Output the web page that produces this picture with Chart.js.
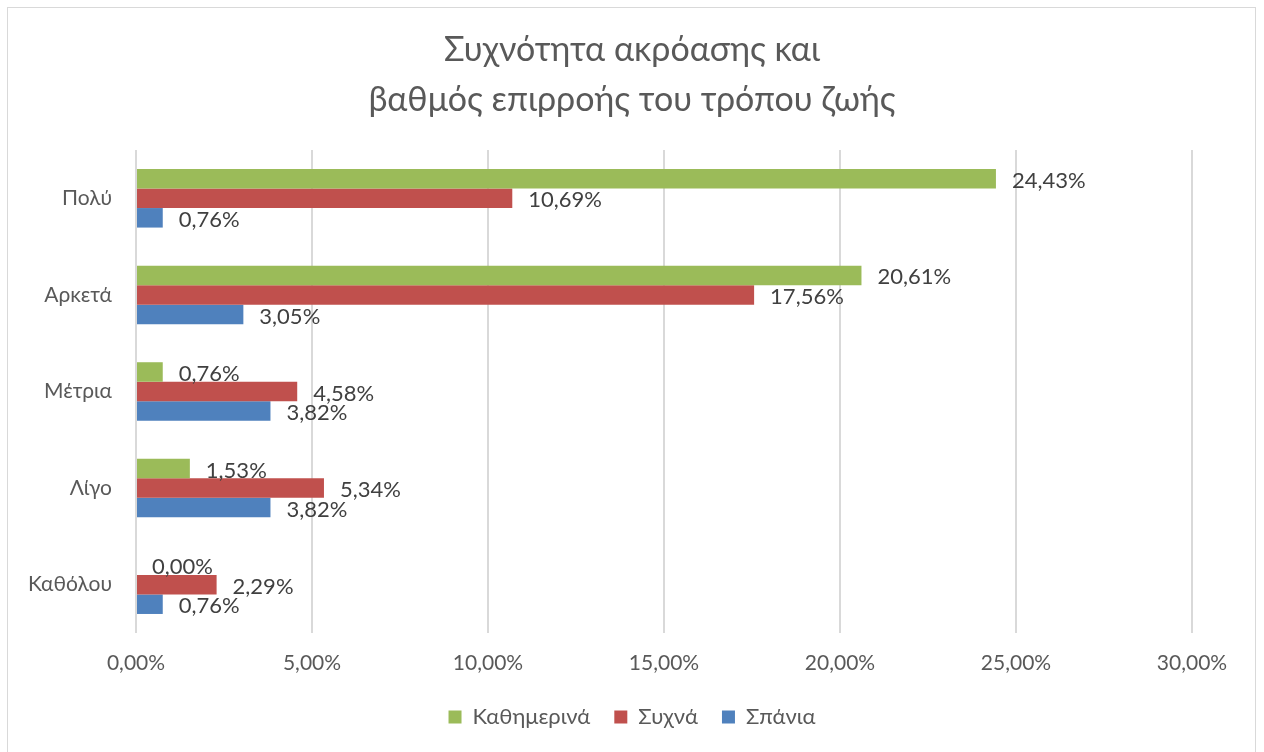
<!DOCTYPE html>
<html>
<head>
<meta charset="utf-8">
<script src="https://cdn.jsdelivr.net/npm/chart.js@4"></script>
<style>
  html, body { margin: 0; padding: 0; background: #ffffff; }
  #frame { position: absolute; left: 7px; top: 7px; width: 1249px; height: 800px; border: 1px solid #d9d9d9; box-sizing: border-box; }
  #wrap { position: absolute; left: 0; top: 0; width: 1264px; height: 752px; }
</style>
</head>
<body>
<div id="frame"></div>
<div id="wrap"><canvas id="c" width="1264" height="752"></canvas></div>
<script>
const titleLines = ['Συχνότητα ακρόασης και', 'βαθμός επιρροής του τρόπου ζωής'];
const categories = ['Πολύ', 'Αρκετά', 'Μέτρια', 'Λίγο', 'Καθόλου'];
const seriesNames = ['Καθημερινά', 'Συχνά', 'Σπάνια'];
const daily = [24.43, 20.61, 0.76, 1.53, 0.00];
const often = [10.69, 17.56, 4.58, 5.34, 2.29];
const rarely = [0.76, 3.05, 3.82, 3.82, 0.76];
const xTicks = [0, 5, 10, 15, 20, 25, 30];
const colors = ['#9BBB59', '#C0504D', '#4F81BD'];

const FONT = 'Lato, Carlito, Calibri, sans-serif';
const fmt = v => v.toFixed(2).replace('.', ',') + '%';

const labelPlugin = {
  id: 'barLabels',
  afterDatasetsDraw(chart) {
    const ctx = chart.ctx;
    ctx.save();
    ctx.font = '22px ' + FONT;
    ctx.fillStyle = '#404040';
    ctx.textAlign = 'left';
    ctx.textBaseline = 'middle';
    chart.data.datasets.forEach((ds, di) => {
      const meta = chart.getDatasetMeta(di);
      meta.data.forEach((bar, i) => {
        ctx.fillText(fmt(ds.data[i]), bar.x + 16, bar.y + 2);
      });
    });
    ctx.restore();
  }
};

new Chart(document.getElementById('c'), {
  type: 'bar',
  data: {
    labels: categories,
    datasets: [
      { label: seriesNames[0], data: daily, backgroundColor: colors[0] },
      { label: seriesNames[1], data: often, backgroundColor: colors[1] },
      { label: seriesNames[2], data: rarely, backgroundColor: colors[2] }
    ]
  },
  options: {
    indexAxis: 'y',
    responsive: false,
    animation: false,
    datasets: { bar: { categoryPercentage: 0.606, barPercentage: 1.0, borderWidth: 0 } },
    layout: { padding: { left: 0, right: 0, top: 0, bottom: 14 } },
    plugins: {
      title: {
        display: true,
        text: titleLines,
        color: '#595959',
        font: { family: FONT, size: 34, weight: 'normal', lineHeight: 50 / 34 },
        padding: { top: 25, bottom: 25 }
      },
      legend: {
        display: true,
        position: 'bottom',
        labels: {
          color: '#595959',
          font: { family: FONT, size: 22 },
          boxWidth: 13,
          boxHeight: 13,
          padding: 24
        }
      },
      tooltip: { enabled: false }
    },
    scales: {
      x: {
        min: 0,
        max: 30,
        afterBuildTicks: s => { s.ticks = xTicks.map(v => ({ value: v })); },
        ticks: {
          color: '#595959',
          font: { family: FONT, size: 21 },
          padding: 18,
          callback: v => fmt(v)
        },
        grid: { color: '#d9d9d9', lineWidth: 2, drawTicks: false },
        border: { display: false },
        afterFit: s => { s.height = 49; }
      },
      y: {
        ticks: {
          color: '#595959',
          font: { family: FONT, size: 21 },
          padding: 24
        },
        grid: { display: false, drawTicks: false },
        border: { display: false },
        afterFit: s => { s.width = 136; }
      },
      yPad: {
        type: 'category',
        position: 'right',
        labels: categories,
        display: true,
        ticks: { display: false },
        grid: { display: false, drawTicks: false },
        border: { display: false },
        afterFit: s => { s.width = 72; }
      }
    }
  },
  plugins: [labelPlugin]
});
</script>
</body>
</html>
